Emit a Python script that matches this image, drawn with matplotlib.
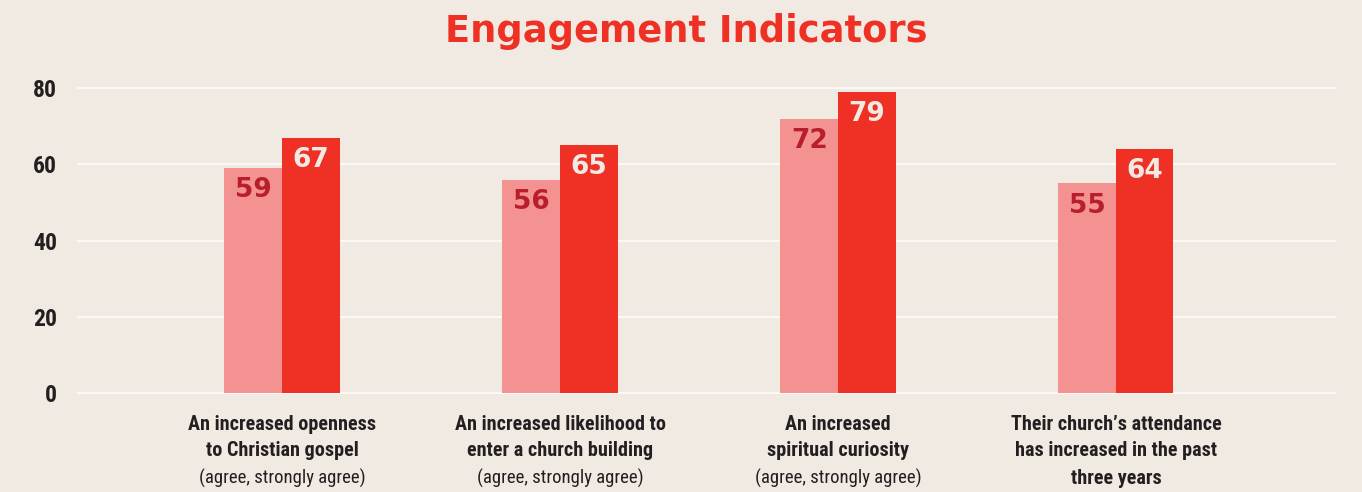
import matplotlib
matplotlib.use("Agg")
import matplotlib.pyplot as plt
from matplotlib import font_manager as fm

categories = ["An increased openness\nto Christian gospel",
              "An increased likelihood to\nenter a church building",
              "An increased\nspiritual curiosity",
              "Their church\u2019s attendance\nhas increased in the past\nthree years"]
subtitles = ["(agree, strongly agree)", "(agree, strongly agree)", "(agree, strongly agree)", ""]
series_a = [59, 56, 72, 55]
series_b = [67, 65, 79, 64]
yticks = [0, 20, 40, 60, 80]

BG = "#F1EAE3"
LIGHT = "#F49191"
DARK = "#EE3124"
LABEL_LIGHT = "#B81F2A"
TEXT = "#231F20"

avail = {f.name for f in fm.fontManager.ttflist}
def pick(*cands):
    for c in cands:
        if c in avail:
            return c
    return "DejaVu Sans"

cond = pick("Roboto Condensed", "Liberation Sans Narrow", "DejaVu Sans Condensed", "Roboto")
wide = "DejaVu Sans"

fig = plt.figure(figsize=(13.62, 4.92), dpi=100, facecolor=BG)
ax = fig.add_axes([78/1362, 99/492, (1335-78)/1362, (393-88)/492])
ax.set_facecolor(BG)

x = list(range(len(categories)))
w = 0.207
ba = ax.bar([i - w/2 for i in x], series_a, width=w, color=LIGHT, zorder=3)
bb = ax.bar([i + w/2 for i in x], series_b, width=w, color=DARK, zorder=3)

for rect, v in zip(ba, series_a):
    ax.annotate(str(v), (rect.get_x() + rect.get_width()/2, v), xytext=(0, -16),
                textcoords="offset points", ha="center", va="center",
                fontsize=19, fontweight="bold", color=LABEL_LIGHT, family=wide, zorder=4)
for rect, v in zip(bb, series_b):
    ax.annotate(str(v), (rect.get_x() + rect.get_width()/2, v), xytext=(0, -16),
                textcoords="offset points", ha="center", va="center",
                fontsize=19, fontweight="bold", color=BG, family=wide, zorder=4)

ax.set_ylim(0, 80)
ax.set_xlim(-0.734, 3.788)
ax.set_yticks(yticks)
ax.set_yticklabels([str(t) for t in yticks], fontsize=17, fontweight="bold",
                   family=cond, color=TEXT)
ax.tick_params(axis="y", length=0, pad=15)
ax.set_xticks([])
for y in yticks:
    ax.axhline(y, color="white", lw=1.2, alpha=0.9, zorder=1, clip_on=False)
for s in ax.spines.values():
    s.set_visible(False)

for i, (cat, sub) in enumerate(zip(categories, subtitles)):
    lines = cat.split("\n")
    for j, ln in enumerate(lines):
        ax.annotate(ln, (i, 0), xycoords=("data", "axes fraction"),
                    xytext=(0, -(31 + 27*j)*0.72), textcoords="offset points",
                    ha="center", va="center", fontsize=14.5, fontweight="bold",
                    family=cond, color=TEXT)
    if sub:
        j = len(lines)
        ax.annotate(sub, (i, 0), xycoords=("data", "axes fraction"),
                    xytext=(0, -(31 + 27*j)*0.72), textcoords="offset points",
                    ha="center", va="center", fontsize=13.5,
                    family=cond, color=TEXT)

fig.text(686/1362, 1 - 31/492, "Engagement Indicators", ha="center", va="center",
         fontsize=26.5, fontweight="bold", color=DARK, family=wide)

fig.savefig("out.png", dpi=100, facecolor=BG)
